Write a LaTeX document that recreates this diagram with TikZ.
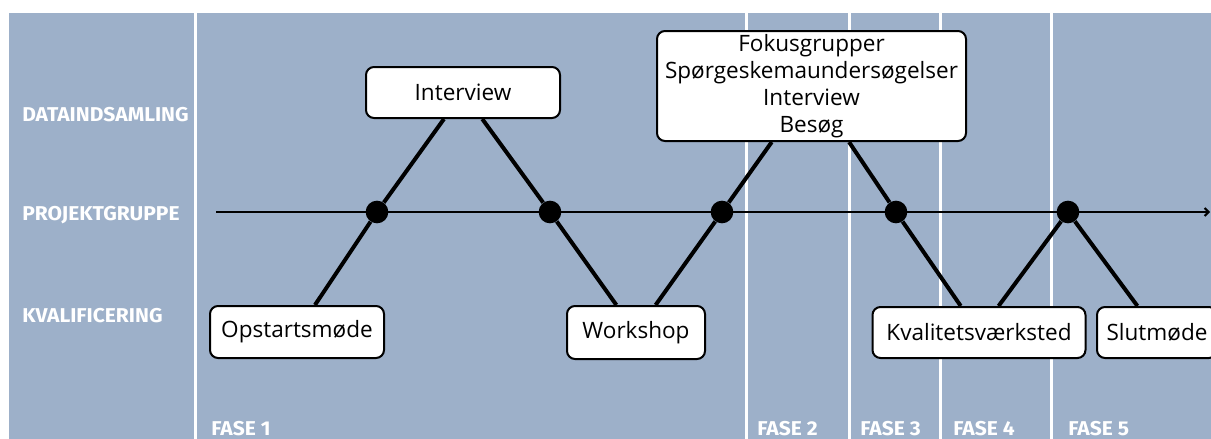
\documentclass[tikz,border=0pt]{standalone}
\usepackage{fontspec}
\setmainfont{Open Sans}
\newfontfamily\labfont[FakeStretch=1.05]{Fira Sans}
\usetikzlibrary{arrows.meta}
\definecolor{bg}{RGB}{157,176,201}
\begin{document}
\begin{tikzpicture}[x=0.75pt,y=-0.75pt,
  box/.style={draw=black, line width=1.5pt, fill=white, rounded corners=6pt,
    font=\fontsize{16.9}{20.25}\selectfont, align=center, inner sep=0pt},
  lab/.style={text=white, font=\labfont\bfseries\fontsize{15}{18}\selectfont,
    anchor=base west, inner sep=0pt},
  sep/.style={white, line width=2.25pt},
  conn/.style={line width=3pt},
  dot/.style={circle, fill=black, minimum size=17pt, inner sep=0pt}]
\useasboundingbox (0,0) rectangle (1211,439);
\begin{scope}
\clip (0,0) rectangle (1211,439);
\fill[bg] (9,13) rectangle (1211,439);
\foreach \x in {195,746,849,940,1051} \draw[sep] (\x,13) -- (\x,439);

% row labels
\node[lab] (l1) at (22,121) {DATAINDSAMLING};
\node[lab] (l2) at (22,220) {PROJEKTGRUPPE};
\node[lab] (l3) at (22,322) {KVALIFICERING};

% phase labels
\node[lab] (f1) at (211,435) {FASE 1};
\node[lab] (f2) at (757,435) {FASE 2};
\node[lab] (f3) at (860,435) {FASE 3};
\node[lab] (f4) at (953,435) {FASE 4};
\node[lab] (f5) at (1068,435) {FASE 5};

% time axis
\coordinate (hs) at (216,212);
\coordinate (he) at (1210,212);
\draw[line width=1.5pt, -{Straight Barb[length=3pt,width=6pt]}] (hs) -- (he);

% boxes
\node[box, minimum width=194*0.75pt, minimum height=51*0.75pt] (iv) at (463,92.5) {Interview};
\node[box, minimum width=309*0.75pt, minimum height=110*0.75pt] (fg) at (811.5,86)
  {Fokusgrupper\\Spørgeskemaundersøgelser\\Interview\\Besøg};
\node[box, minimum width=174*0.75pt, minimum height=52*0.75pt] (op) at (297,332) {Opstartsmøde};
\node[box, minimum width=138*0.75pt, minimum height=53*0.75pt] (ws) at (636,332.5) {Workshop};
\node[box, minimum width=213*0.75pt, minimum height=51*0.75pt] (kv) at (979,332.5) {Kvalitetsværksted};
\node[box, minimum width=120*0.75pt, minimum height=51*0.75pt] (sm) at (1157,332.5) {Slutmøde};

% dots
\node[dot] (d1) at (377,212) {};
\node[dot] (d2) at (550,212) {};
\node[dot] (d3) at (722,212) {};
\node[dot] (d4) at (896,212) {};
\node[dot] (d5) at (1068,212) {};

% connectors
\draw[conn] (op) -- (d1) -- (iv);
\draw[conn] (iv) -- (d2) -- (ws);
\draw[conn] (ws) -- (d3) -- (fg);
\draw[conn] (fg) -- (d4) -- (kv);
\draw[conn] (kv) -- (d5) -- (sm);
\end{scope}
\end{tikzpicture}
\end{document}
